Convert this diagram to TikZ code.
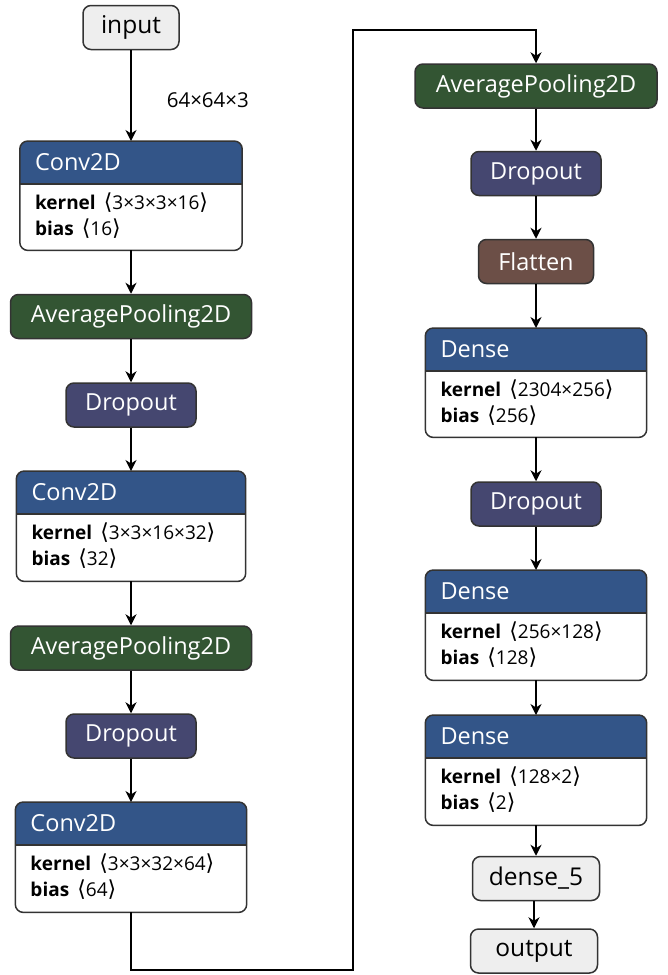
\documentclass[tikz,border=0pt]{standalone}
\usepackage{fontspec}
\setmainfont{Open Sans}
\newfontfamily\dvs{DejaVu Sans}
\usetikzlibrary{arrows.meta,calc}
\definecolor{layercol}{RGB}{51,85,136}
\definecolor{poolcol}{RGB}{51,85,51}
\definecolor{dropcol}{RGB}{69,71,112}
\definecolor{shapecol}{RGB}{108,79,71}
\definecolor{iocol}{RGB}{238,238,238}
\definecolor{bordercol}{RGB}{51,51,51}
\newcommand\lb{{\dvs\fontsize{22}{22}\selectfont\char"27E8}}
\newcommand\rb{{\dvs\fontsize{22}{22}\selectfont\char"27E9}}
\tikzset{
  edge/.style={line width=1.6pt, draw=black, -{Stealth[length=11pt,width=11pt,inset=3.5pt]}},
  opbox/.style={draw=bordercol, line width=1.5pt, rounded corners=8pt, inner sep=0pt,
     text=white, font=\fontsize{23.5}{26}\selectfont, minimum height=44pt},
  iobox/.style={opbox, fill=iocol, text=black, font=\fontsize{24.5}{27}\selectfont},
  ttl/.style={anchor=west, text=white, font=\fontsize{23.5}{26}\selectfont, inner sep=0pt},
  bodytxt/.style={anchor=west, text=black, font=\fontsize{19}{22}\selectfont, inner sep=0pt},
  lbl/.style={font=\fontsize{20.5}{23}\selectfont, inner sep=0pt, anchor=west}
}
% #1 name, #2 cx, #3 top, #4 width, #5 height, #6 title, #7 line1, #8 line2
\newcommand\LBox[8]{%
  \node[draw=none, minimum width=#4, minimum height=#5, anchor=north, inner sep=0pt] (#1) at (#2,#3) {};
  \fill[white, rounded corners=8pt] (#1.north west) rectangle (#1.south east);
  \begin{scope}
    \clip[rounded corners=8pt] (#1.north west) rectangle (#1.south east);
    \fill[layercol] (#1.north west) rectangle ($(#1.north east)+(0,43)$);
  \end{scope}
  \draw[bordercol, line width=1.5pt] ($(#1.north west)+(0,43)$) -- ($(#1.north east)+(0,43)$);
  \draw[bordercol, line width=1.5pt, rounded corners=8pt] (#1.north west) rectangle (#1.south east);
  \node[ttl] (#1-t) at ($(#1.north west)+(15,21.5)$) {#6};
  \node[bodytxt] (#1-a) at ($(#1.north west)+(15,62)$) {#7};
  \node[bodytxt] (#1-b) at ($(#1.north west)+(15,88)$) {#8};
}
\begin{document}
\begin{tikzpicture}[x=1pt,y=-1pt]
\useasboundingbox (0,0) rectangle (667,975);
% left column
\node[iobox, minimum width=96pt] (in) at (131,27.5) {input};
\LBox{c1}{131}{141}{222}{109}{Conv2D}{\textbf{kernel}\ \,\lb3×3×3×16\rb}{\textbf{bias}\ \,\lb16\rb}
\node[opbox, fill=poolcol, minimum width=241pt] (ap1) at (131,316.5) {AveragePooling2D};
\node[opbox, fill=dropcol, minimum width=130pt] (d1) at (131,405) {Dropout};
\LBox{c2}{131}{471}{229}{110}{Conv2D}{\textbf{kernel}\ \,\lb3×3×16×32\rb}{\textbf{bias}\ \,\lb32\rb}
\node[opbox, fill=poolcol, minimum width=241pt] (ap2) at (131,648) {AveragePooling2D};
\node[opbox, fill=dropcol, minimum width=130pt] (d2) at (131,736) {Dropout};
\LBox{c3}{131}{802}{231}{110}{Conv2D}{\textbf{kernel}\ \,\lb3×3×32×64\rb}{\textbf{bias}\ \,\lb64\rb}
% right column
\node[opbox, fill=poolcol, minimum width=242pt] (ap3) at (536,86) {AveragePooling2D};
\node[opbox, fill=dropcol, minimum width=130pt] (d3) at (536,173.5) {Dropout};
\node[opbox, fill=shapecol, minimum width=115pt] (fl) at (536,261.5) {Flatten};
\LBox{de1}{536}{328}{221}{109}{Dense}{\textbf{kernel}\ \,\lb2304×256\rb}{\textbf{bias}\ \,\lb256\rb}
\node[opbox, fill=dropcol, minimum width=130pt] (d4) at (536,504) {Dropout};
\LBox{de2}{536}{570}{221}{110}{Dense}{\textbf{kernel}\ \,\lb256×128\rb}{\textbf{bias}\ \,\lb128\rb}
\LBox{de3}{536}{715}{221}{110}{Dense}{\textbf{kernel}\ \,\lb128×2\rb}{\textbf{bias}\ \,\lb2\rb}
\node[iobox, minimum width=127pt] (d5) at (536,878.5) {dense\_5};
\node[iobox, minimum width=127pt] (out) at (534,951) {output};
% edges
\draw[edge] (in.south) -- (c1.north) node[pos=0.55, lbl, xshift=35pt] (shp) {64×64×3};
\draw[edge] (c1.south) -- (ap1.north);
\draw[edge] (ap1.south) -- (d1.north);
\draw[edge] (d1.south) -- (c2.north);
\draw[edge] (c2.south) -- (ap2.north);
\draw[edge] (ap2.south) -- (d2.north);
\draw[edge] (d2.south) -- (c3.north);
\coordinate (k1) at (353,970);
\coordinate (k2) at (353,30);
\draw[edge] (c3.south) |- (k1) -- (k2) -| (ap3.north);
\draw[edge] (ap3.south) -- (d3.north);
\draw[edge] (d3.south) -- (fl.north);
\draw[edge] (fl.south) -- (de1.north);
\draw[edge] (de1.south) -- (d4.north);
\draw[edge] (d4.south) -- (de2.north);
\draw[edge] (de2.south) -- (de3.north);
\draw[edge] (de3.south) -- (d5.south |- d5.north);
\draw[edge] (d5.south -| out.north) -- (out.north);
\end{tikzpicture}
\end{document}
